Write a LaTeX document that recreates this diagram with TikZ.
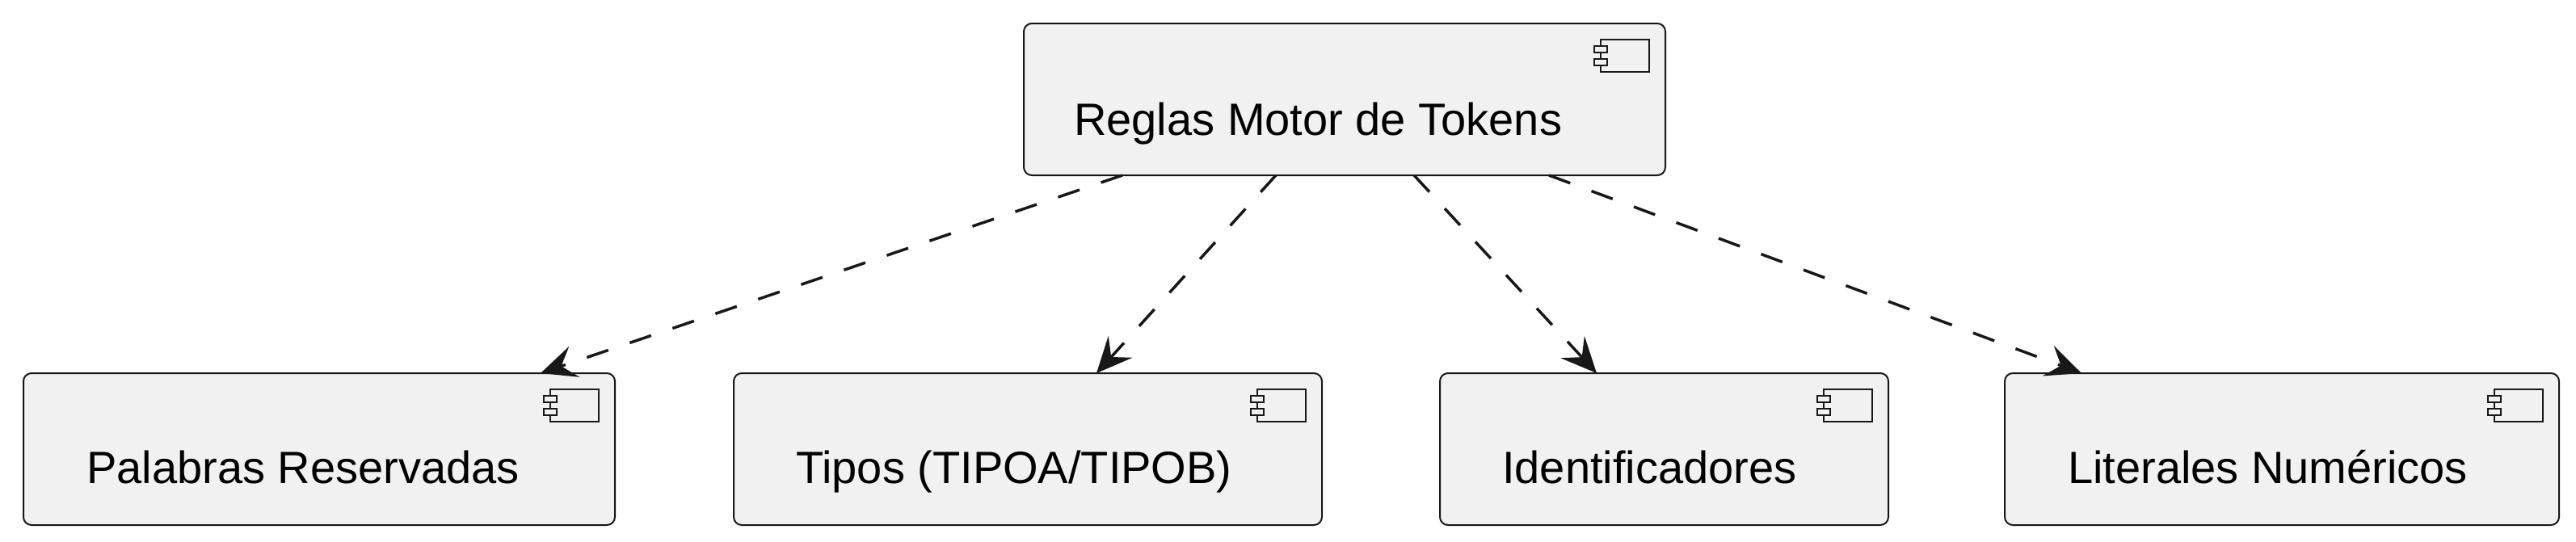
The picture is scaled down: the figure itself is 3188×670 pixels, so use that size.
\documentclass[tikz,border=0pt]{standalone}
\usepackage{fontspec}
\setmainfont{Liberation Sans}
\usetikzlibrary{arrows.meta}
\definecolor{boxfill}{HTML}{F1F1F1}
\definecolor{ink}{HTML}{181818}
\tikzset{
  comp/.style={draw=ink, fill=boxfill, line width=2pt, rounded corners=10pt,
    minimum height=188pt, inner sep=0pt, outer sep=0pt},
  lbl/.style={anchor=base west, inner sep=0pt, text=black,
    font=\fontsize{56}{67}\selectfont},
  iconline/.style={draw=ink, fill=boxfill, line width=2pt},
  dep/.style={draw=ink, line width=3.5pt, dash pattern=on 28pt off 28pt,
    -{Stealth[length=44pt, width=40pt, inset=17pt]}},
}
\begin{document}
\begin{tikzpicture}[x=1pt, y=-1pt]
\useasboundingbox (0,0) rectangle (3188,670);
% boxes
\node[comp, minimum width=794pt] (top) at (1664,123) {};
\node[comp, minimum width=732pt] (b1) at (395,556) {};
\node[comp, minimum width=728pt] (b2) at (1272,556) {};
\node[comp, minimum width=555pt] (b3) at (2059.5,556) {};
\node[comp, minimum width=686pt] (b4) at (2824,556) {};
% icons
\foreach \b in {top,b1,b2,b3,b4}{
  \begin{scope}[shift={(\b.north east)}]
    \draw[iconline] (-80,20) rectangle (-20,60);
    \draw[iconline] (-88,28) rectangle (-72,36);
    \draw[iconline] (-88,44) rectangle (-72,52);
  \end{scope}
}
% labels
\node[lbl] (ttop) at ([xshift=62pt,yshift=-138pt]top.north west) {Reglas Motor de Tokens};
\node[lbl] (t1) at ([xshift=78pt,yshift=-136pt]b1.north west) {Palabras Reservadas};
\node[lbl] (t2) at ([xshift=77pt,yshift=-136pt]b2.north west) {Tipos (TIPOA/TIPOB)};
\node[lbl] (t3) at ([xshift=77pt,yshift=-136pt]b3.north west) {Identificadores};
\node[lbl] (t4) at ([xshift=78pt,yshift=-136pt]b4.north west) {Literales Numéricos};
% connectors
\draw[dep] ([xshift=122pt]top.south west) -- ([xshift=640pt]b1.north west);
\draw[dep] ([xshift=312pt]top.south west) -- ([xshift=449pt]b2.north west);
\draw[dep] ([xshift=483pt]top.south west) -- ([xshift=194pt]b3.north west);
\draw[dep] ([xshift=650pt]top.south west) -- ([xshift=95pt]b4.north west);
\end{tikzpicture}
\end{document}
